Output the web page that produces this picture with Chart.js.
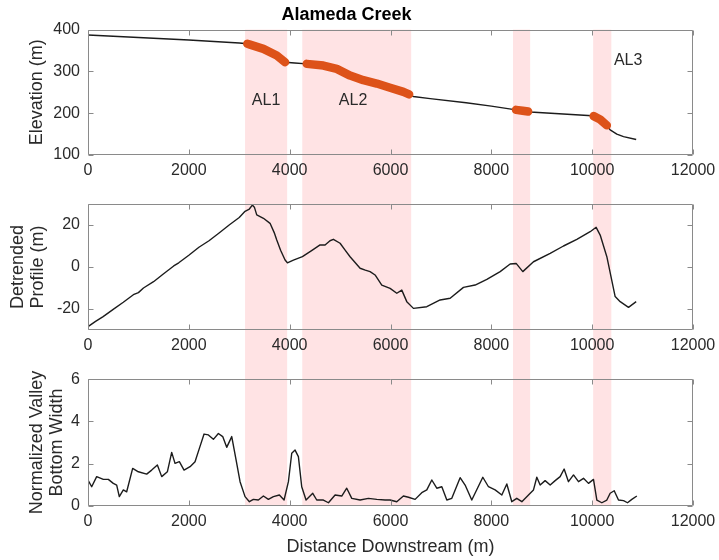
<!DOCTYPE html>
<html><head><meta charset="utf-8">
<script src="https://cdn.jsdelivr.net/npm/chart.js@4.4.1/dist/chart.umd.min.js"></script>
<style>
html,body{margin:0;padding:0;background:#fff;}
#wrap{position:relative;width:719px;height:560px;overflow:hidden;}
canvas{position:absolute;left:0;display:block;}
</style></head><body>
<div id="wrap">
<canvas id="c1" width="719" height="190" style="top:0px"></canvas>
<canvas id="c2" width="719" height="180" style="top:190px"></canvas>
<canvas id="c3" width="719" height="190" style="top:370px"></canvas>
</div>
<script>
// ---------------- data ----------------
const distanceTicks = [0, 2000, 4000, 6000, 8000, 10000, 12000];
const elevTicks = [100, 200, 300, 400];
const detTicks = [-20, 0, 20];
const widthTicks = [0, 2, 4, 6];

const bandStart = [3115, 4250, 8430, 10020];
const bandEnd   = [3950, 6410, 8770, 10380];

const reachLabels = ['AL1', 'AL2', 'AL3'];
const reachLabelX = [3532, 5258, 10714];
const reachLabelY = [231, 231, 326];

const elevDist = [0,1000,2000,3000,3160,3214,3479,3744,3909,4100,4339,4669,4934,5198,5462,5728,5992,6256,6370,6450,6786,7500,8000,8490,8620,8730,8770,10000,10030,10159,10291,10357,10489,10622,10873];
const elevVals = [387,381,375,368,366,364,354,338,322,320,318,314,306,290,279,271,261,251,245,240,235,225,217,208,206,204,203,194,193,185,171,160,150,144,137];

const reach1Dist = [3160,3214,3479,3744,3909];
const reach1Elev = [366,364,354,338,322];
const reach2Dist = [4339,4669,4934,5198,5462,5728,5992,6256,6370];
const reach2Elev = [318,314,306,290,279,271,261,251,245];
const reach3Dist = [8490,8620,8730];
const reach3Elev = [208,206,204];
const reach4Dist = [10030,10159,10291];
const reach4Elev = [193,185,171];

const detDist = [0,150,300,500,700,900,1000,1100,1300,1500,1700,1800,2000,2200,2400,2600,2800,3000,3115,3200,3260,3300,3347,3480,3611,3700,3744,3820,3909,3955,4074,4253,4450,4603,4702,4800,4867,5000,5100,5198,5397,5500,5595,5694,5827,5992,6125,6224,6323,6455,6720,6984,7183,7447,7679,7911,8175,8373,8492,8624,8836,9167,9431,9696,9960,10079,10159,10291,10456,10556,10721,10873];
const detVals = [-28.4,-25.9,-23.6,-20.2,-16.8,-13.2,-12.2,-10,-7,-3.2,0.5,2,5.6,9.4,12.5,16.2,20,23.6,26.5,27.6,29.5,28.5,24.8,23.2,20.8,16,12.9,8,3.3,2.0,3.3,4.9,8,10.5,10.5,12.5,13.2,11.3,8,4.9,-0.6,-1.5,-2.2,-3.8,-8.6,-10.2,-12.5,-11,-16.5,-19.7,-18.9,-15.7,-14.9,-9.7,-8.6,-5.9,-2.2,1.4,1.7,-2.2,2.5,6.5,10,13.2,16.8,18.9,15.2,4.9,-14.1,-16.5,-19.2,-16.5];

const widthDist = [0,73,172,304,403,502,569,621,701,767,886,999,1164,1263,1376,1462,1574,1660,1726,1812,1905,2024,2123,2209,2302,2388,2487,2586,2672,2751,2851,2937,3016,3115,3201,3280,3379,3479,3578,3677,3796,3889,3975,4041,4107,4173,4239,4325,4458,4537,4669,4769,4901,5033,5132,5232,5397,5562,5728,5893,5992,6124,6256,6356,6488,6620,6720,6819,6918,7018,7117,7216,7381,7480,7612,7725,7831,7943,8075,8208,8307,8406,8505,8605,8737,8836,8902,8968,9067,9167,9266,9365,9444,9530,9630,9729,9828,9927,10026,10093,10192,10291,10357,10437,10522,10622,10701,10787,10886];
const widthVals = [1.22,0.9,1.38,1.25,1.25,1.06,0.98,0.43,0.75,0.66,1.77,1.61,1.5,1.69,1.93,1.38,1.61,2.53,2.01,2.09,1.69,1.85,2.09,2.72,3.4,3.36,3.15,3.43,3.28,2.77,3.28,2.17,1.14,0.43,0.19,0.3,0.27,0.46,0.3,0.43,0.51,0.27,1.14,2.49,2.64,2.33,0.9,0.27,0.59,0.27,0.27,0.14,0.51,0.46,0.83,0.35,0.27,0.35,0.3,0.27,0.27,0.19,0.46,0.4,0.3,0.62,0.75,1.22,0.83,0.9,0.27,0.35,1.33,0.98,0.27,0.83,1.35,0.9,0.75,0.51,1.03,0.19,0.35,0.19,0.51,0.75,1.35,0.98,1.19,0.98,1.19,1.38,1.74,1.14,1.46,1.14,1.3,1.06,1.25,0.27,0.14,0.27,0.59,0.71,0.27,0.24,0.14,0.3,0.46];

// ---------------- style ----------------
const FONT = '"Liberation Sans", Arial, Helvetica, sans-serif';
const TEXT = '#2a2a2a';
const BAND = '#FFE3E4';
const ORANGE = '#DD5219';
const LINE = '#1c1c1c';
const FRAME = '#8a8a8a';

function pts(xs, ys) { return xs.map((x, i) => ({x: x, y: ys[i]})); }

const bandPlugin = {
  id: 'bands',
  beforeDraw(chart, args, opts) {
    const {ctx, chartArea, scales} = chart;
    const x = scales.x;
    const top = opts.fromTop ? chartArea.top : 0;
    const bottom = opts.toBottom ? chartArea.bottom : chart.height;
    ctx.save();
    ctx.fillStyle = BAND;
    for (let i = 0; i < bandStart.length; i++) {
      const x1 = x.getPixelForValue(bandStart[i]);
      const x2 = x.getPixelForValue(bandEnd[i]);
      ctx.fillRect(x1, top, x2 - x1, bottom - top);
    }
    ctx.restore();
  }
};

const framePlugin = {
  id: 'frame',
  afterDatasetsDraw(chart, args, opts) {
    const {ctx, chartArea: a, scales} = chart;
    const L = Math.round(a.left) + 0.5, R = Math.round(a.right) - 0.5;
    const T = Math.round(a.top) + 0.5, B = Math.round(a.bottom) - 0.5;
    ctx.save();
    ctx.strokeStyle = FRAME;
    ctx.lineWidth = 1;
    ctx.beginPath();
    ctx.rect(L, T, R - L, B - T);
    const tl = 5;
    scales.x.ticks.forEach(t => {
      const px = Math.round(scales.x.getPixelForValue(t.value)) + 0.5;
      ctx.moveTo(px, B); ctx.lineTo(px, B - tl);
      ctx.moveTo(px, T); ctx.lineTo(px, T + tl);
    });
    scales.y.ticks.forEach(t => {
      const py = Math.round(scales.y.getPixelForValue(t.value)) + 0.5;
      ctx.moveTo(L, py); ctx.lineTo(L + tl, py);
      ctx.moveTo(R, py); ctx.lineTo(R - tl, py);
    });
    ctx.stroke();
    if (opts.labels) {
      ctx.fillStyle = TEXT;
      ctx.font = '16px ' + FONT;
      ctx.textAlign = 'center';
      ctx.textBaseline = 'middle';
      for (let i = 0; i < reachLabels.length; i++) {
        ctx.fillText(reachLabels[i], scales.x.getPixelForValue(reachLabelX[i]), scales.y.getPixelForValue(reachLabelY[i]));
      }
    }
    ctx.restore();
  }
};

function makeOptions(c) {
  return {
    responsive: false,
    animation: false,
    events: [],
    layout: {padding: {top: c.padTop, right: 26, left: 0, bottom: 0}},
    plugins: {
      legend: {display: false},
      tooltip: {enabled: false},
      title: c.title ? {
        display: true, text: c.title, color: '#000',
        font: {family: FONT, size: 18, weight: 'bold', lineHeight: 1.2},
        padding: {top: 4, bottom: 4}
      } : {display: false},
      bands: {fromTop: c.fromTop, toBottom: c.toBottom},
      frame: {labels: !!c.labels}
    },
    elements: {point: {radius: 0}, line: {tension: 0}},
    scales: {
      x: {
        type: 'linear', min: 0, max: 12000,
        grid: {display: false, drawTicks: false, tickLength: 0}, border: {display: false},
        ticks: {padding: 8, color: TEXT, font: {family: FONT, size: 16, lineHeight: 1.0}, maxRotation: 0, autoSkip: false, callback: v => String(v)},
        afterBuildTicks: s => { s.ticks = distanceTicks.map(v => ({value: v})); },
        afterFit: s => { s.height = c.xHeight; s.paddingLeft = 0; s.paddingRight = 0; },
        title: c.xTitle ? {display: true, text: c.xTitle, color: TEXT, font: {family: FONT, size: 18, lineHeight: 1.1}, padding: {top: 0, bottom: 3}} : {display: false}
      },
      y: {
        type: 'linear', min: c.ymin, max: c.ymax,
        grid: {display: false, drawTicks: false, tickLength: 0}, border: {display: false},
        ticks: {padding: 8, color: TEXT, font: {family: FONT, size: 16, lineHeight: 1.0}, autoSkip: false, callback: v => String(v)},
        afterBuildTicks: s => { s.ticks = c.yTicks.map(v => ({value: v})); },
        afterFit: s => { s.width = 88; s.paddingTop = 0; s.paddingBottom = 0; },
        title: {display: true, text: c.yTitle, color: TEXT, font: {family: FONT, size: 18, lineHeight: 1.1}, padding: {top: c.yTitlePad, bottom: 0}}
      }
    }
  };
}

function orange(xs, ys) {
  return {data: pts(xs, ys), borderColor: ORANGE, borderWidth: 8.5, borderCapStyle: 'round', borderJoinStyle: 'round', pointRadius: 0, fill: false};
}
function black(xs, ys) {
  return {data: pts(xs, ys), borderColor: LINE, borderWidth: 1.4, pointRadius: 0, fill: false, borderJoinStyle: 'round'};
}

new Chart(document.getElementById('c1'), {
  type: 'line',
  data: {datasets: [
    orange(reach1Dist, reach1Elev), orange(reach2Dist, reach2Elev),
    orange(reach3Dist, reach3Elev), orange(reach4Dist, reach4Elev),
    black(elevDist, elevVals)
  ]},
  options: makeOptions({title: 'Alameda Creek', padTop: 0, xHeight: 35, ymin: 100, ymax: 400, yTicks: elevTicks,
    yTitle: 'Elevation (m)', yTitlePad: 27, fromTop: true, toBottom: false, labels: true}),
  plugins: [bandPlugin, framePlugin]
});

new Chart(document.getElementById('c2'), {
  type: 'line',
  data: {datasets: [black(detDist, detVals)]},
  options: makeOptions({padTop: 14, xHeight: 40, ymin: -30, ymax: 30, yTicks: detTicks,
    yTitle: ['Detrended', 'Profile (m)'], yTitlePad: 8, fromTop: false, toBottom: false}),
  plugins: [bandPlugin, framePlugin]
});

new Chart(document.getElementById('c3'), {
  type: 'line',
  data: {datasets: [black(widthDist, widthVals)]},
  options: makeOptions({padTop: 9.3, xHeight: 54.3, ymin: 0, ymax: 6, yTicks: widthTicks,
    yTitle: ['Normalized Valley', 'Bottom Width'], yTitlePad: 27, xTitle: 'Distance Downstream (m)', fromTop: false, toBottom: true}),
  plugins: [bandPlugin, framePlugin]
});
</script>
</body></html>
